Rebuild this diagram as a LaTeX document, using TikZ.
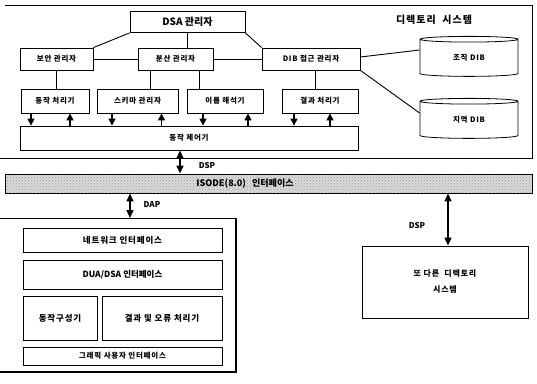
\documentclass[tikz,border=0pt]{standalone}
\usepackage{fontspec}
\setmainfont{Noto Sans CJK KR}
\newfontfamily\kls[LetterSpace=10]{Noto Sans CJK KR}
\usetikzlibrary{shapes.geometric,arrows.meta,patterns}
\begin{document}
\begin{tikzpicture}[x=1pt,y=-1pt,
  box/.style={draw, line width=0.8pt, inner sep=1pt, align=center, font=\kls\bfseries\fontsize{7.5}{9}\selectfont},
  bigbox/.style={box, font=\kls\bfseries\fontsize{8.5}{10}\selectfont},
  conn/.style={line width=0.9pt},
  dn/.style={line width=1.2pt, -{Triangle[length=7pt,width=7pt]}},
  dbl/.style={line width=1.5pt, {Triangle[length=8pt,width=7pt]}-{Triangle[length=8pt,width=7pt]}},
  lbl/.style={font=\bfseries\fontsize{8}{9}\selectfont},
  db/.style={cylinder, shape border rotate=90, draw, line width=0.8pt, aspect=0.18,
     minimum width=98pt, minimum height=40pt, inner sep=0pt, font=\kls\bfseries\fontsize{7.5}{9}\selectfont}]
\useasboundingbox (0,0) rectangle (537,383);

% directory system frame
\draw[line width=0.9pt] (5,5) -- (532,5) -- (532,158) -- (0,158);
\node[font=\bfseries\kls\fontsize{10}{12}\selectfont] (title) at (434,20) {디렉토리\ \ 시스템};

\node[box, minimum width=115pt, minimum height=21pt, font=\bfseries\fontsize{10}{12}\selectfont] (dsa) at (187.5,22) {DSA 관리자};

\node[box, minimum width=73pt, minimum height=22pt] (sec) at (56.5,59) {보안 관리자};
\node[box, minimum width=75pt, minimum height=22pt] (dist) at (175.5,59) {분산 관리자};
\node[box, minimum width=98pt, minimum height=22pt] (dib) at (311,59) {DIB 접근 관리자};

\node[box, minimum width=68pt, minimum height=24pt] (proc) at (55,101) {동작 처리기};
\node[box, minimum width=81pt, minimum height=24pt] (schema) at (137.5,101) {스키마 관리자};
\node[box, minimum width=76pt, minimum height=24pt] (name) at (225,101) {이름 해석기};
\node[box, minimum width=76pt, minimum height=24pt] (result) at (320,101) {결과 처리기};

\node[box, minimum width=338pt, minimum height=24pt] (ctrl) at (189,138) {동작 제어기};

\node[db] (db1) at (469,58) {조직 DIB};
\node[db] (db2) at (469,120) {지역 DIB};

% connectors in the directory system
\draw[conn] (dsa.south west) -- (sec.north east);
\draw[conn] (dsa.south) -- (dsa.south |- dist.north);
\draw[conn] (dsa.south east) -- (dib.north west);
\draw[conn] (sec.east) -- (dist.west);
\draw[conn] (dist.east) -- (dib.west);
\draw[conn] (sec.south) -- (sec.south |- proc.north);
\draw[conn] ([xshift=-25.5pt]dist.south) -- ([xshift=-25.5pt]dist.south |- schema.north);
\draw[conn] ([xshift=24pt]dist.south) -- ([xshift=24pt]dist.south |- name.north);
\draw[conn] ([xshift=4pt]dib.south) -- ([xshift=4pt]dib.south |- result.north);
\draw[conn] ([yshift=2pt]dib.east) -- ([yshift=8pt]db1.west);
\draw[conn] (dib.south east) -- ([yshift=7pt]db2.west);

% arrows to the operation controller
\draw[dn] ([xshift=-24pt]proc.south) -- ([xshift=-24pt]proc.south |- ctrl.north);
\draw[dn] ([xshift=15pt]proc.south |- ctrl.north) -- ([xshift=15pt]proc.south);
\draw[dn] ([xshift=-25.5pt]schema.south) -- ([xshift=-25.5pt]schema.south |- ctrl.north);
\draw[dn] ([xshift=24pt]schema.south |- ctrl.north) -- ([xshift=24pt]schema.south);
\draw[dn] ([xshift=-22pt]name.south) -- ([xshift=-22pt]name.south |- ctrl.north);
\draw[dn] ([xshift=23pt]name.south |- ctrl.north) -- ([xshift=23pt]name.south);
\draw[dn] ([xshift=-26pt]result.south) -- ([xshift=-26pt]result.south |- ctrl.north);
\draw[dn] ([xshift=10pt]result.south |- ctrl.north) -- ([xshift=10pt]result.south);

% ISODE band
\node[draw, line width=0.9pt, preaction={fill=gray!28}, pattern=crosshatch dots, pattern color=gray!80,
      minimum width=527pt, minimum height=19pt, inner sep=0pt] (band) at (268.5,183.5) {};
\node[font=\bfseries\fontsize{9}{10}\selectfont] (bandtxt) at (245,183.5) {ISODE(8.0)\ \ \ 인터페이스};

\coordinate (x1) at (180,0);
\draw[dbl] (ctrl.south -| x1) -- (band.north -| x1);
\node[lbl] (dsp1) at (207,166) {DSP};

% lower-left frame (DUA)
\draw[line width=0.9pt] (0,218) -- (236,218);
\draw[line width=1.6pt] (236,218) -- (236,372);
\draw[line width=2.2pt] (0,372) -- (237,372);
\coordinate (ftop) at (130,218);
\draw[dbl] (band.south -| ftop) -- (ftop);
\node[lbl] (dap) at (152,205) {DAP};

\node[bigbox, minimum width=199pt, minimum height=24pt] (net) at (122.5,240) {네트워크 인터페이스};
\node[bigbox, minimum width=199pt, minimum height=29pt, font=\bfseries\fontsize{8.5}{10}\selectfont] (dua) at (122.5,275) {DUA/DSA 인터페이스};
\node[bigbox, minimum width=74pt, minimum height=44pt] (op) at (60,318) {동작구성기};
\node[bigbox, minimum width=120pt, minimum height=44pt] (err) at (162,318) {결과 및 오류 처리기};
\node[bigbox, minimum width=199pt, minimum height=18pt, font=\kls\bfseries\fontsize{7.5}{9}\selectfont] (gui) at (122.5,356) {그래픽 사용자 인터페이스};

% other directory system
\node[box, minimum width=166pt, minimum height=72pt, font=\kls\bfseries\fontsize{8}{16}\selectfont] (other) at (445,282) {또 다른\ \ 디렉토리\\시스템};
\draw[line width=1.8pt] (other.north east) -- (other.south east) -- (other.south west);
\coordinate (x2) at (448,0);
\draw[dbl] (band.south -| x2) -- (other.north -| x2);
\node[lbl] (dsp2) at (417,226) {DSP};
\end{tikzpicture}
\end{document}
